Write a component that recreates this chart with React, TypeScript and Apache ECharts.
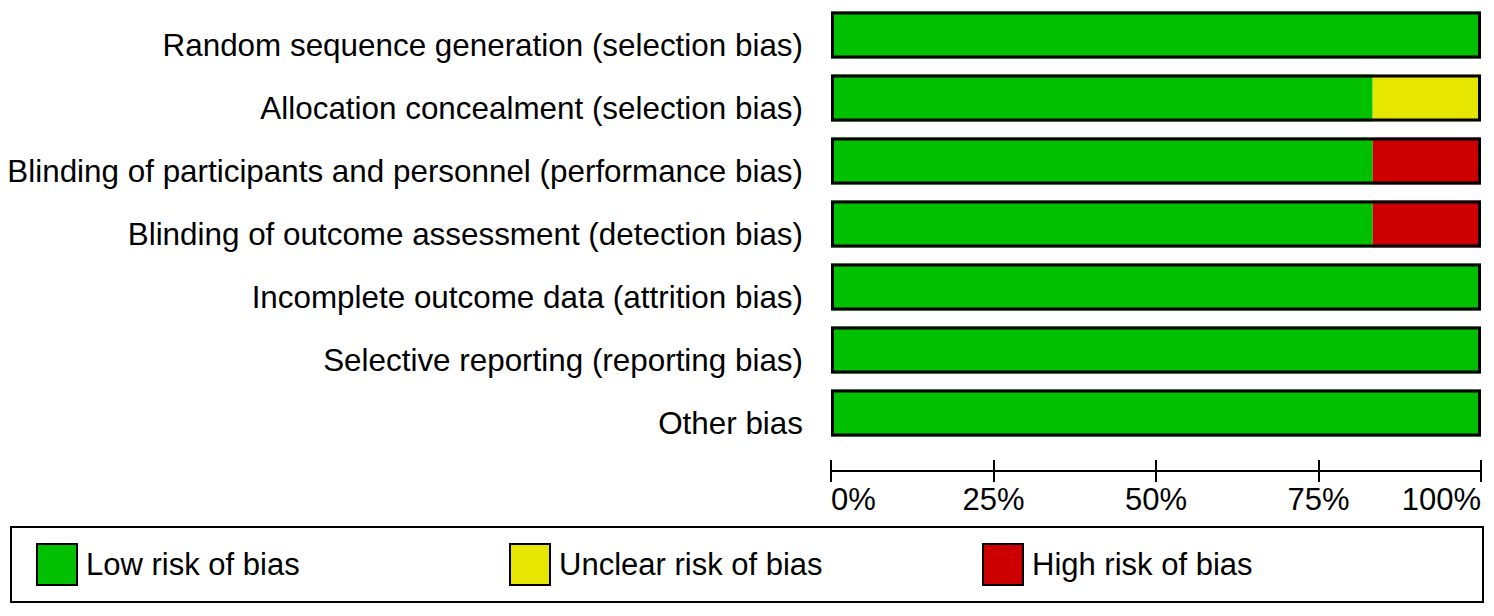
import React, { useEffect, useRef } from "react";
import * as echarts from "echarts";

const categories = [
  "Random sequence generation (selection bias)",
  "Allocation concealment (selection bias)",
  "Blinding of participants and personnel (performance bias)",
  "Blinding of outcome assessment (detection bias)",
  "Incomplete outcome data (attrition bias)",
  "Selective reporting (reporting bias)",
  "Other bias",
];
const lowRisk = [100, 83.33, 83.33, 83.33, 100, 100, 100];
const unclearRisk = [0, 16.67, 0, 0, 0, 0, 0];
const highRisk = [0, 0, 16.67, 16.67, 0, 0, 0];
const xTicks = [0, 25, 50, 75, 100];

const seriesNames = ["Low risk of bias", "Unclear risk of bias", "High risk of bias"];
const colors = ["#00C000", "#E6E600", "#CC0000"];

const FONT = "'Liberation Sans', Arial, sans-serif";

export default function App() {
  const ref = useRef<HTMLDivElement>(null);
  useEffect(() => {
    if (!ref.current) return;
    const chart = echarts.init(ref.current, undefined, { renderer: "svg" });
    const totals = lowRisk.map((v, i) => v + unclearRisk[i] + highRisk[i]);
    const segStyle = (c: string) => ({ color: c, borderWidth: 0 });
    const legendBase = (name: string, left: number) => ({
      data: [name],
      left,
      top: 543,
      padding: 0,
      orient: "horizontal",
      itemWidth: 40,
      itemHeight: 41,
      icon: "rect",
      selectedMode: false,
      itemStyle: { borderColor: "#000", borderWidth: 2 },
      textStyle: {
        fontFamily: FONT,
        fontSize: 31,
        color: "#000",
        padding: [0, 0, 0, 4],
      },
    });
    chart.setOption({
      animation: false,
      backgroundColor: "#fff",
      grid: { left: 831, width: 650, top: 3.5, height: 441, containLabel: false },
      xAxis: [
        {
          type: "value",
          min: xTicks[0],
          max: xTicks[xTicks.length - 1],
          interval: 25,
          position: "bottom",
          offset: 26.5,
          axisLine: { show: true, lineStyle: { color: "#000", width: 2 } },
          axisTick: { show: true, length: 11, inside: false, lineStyle: { color: "#000", width: 2 } },
          axisLabel: {
            formatter: "{value}%",
            fontFamily: FONT,
            fontSize: 31,
            color: "#000",
            margin: 13,
            alignMinLabel: "left",
            alignMaxLabel: "right",
          },
          splitLine: { show: false },
        },
        {
          type: "value",
          min: xTicks[0],
          max: xTicks[xTicks.length - 1],
          interval: 25,
          position: "bottom",
          offset: 26.5,
          axisLine: { show: false },
          axisTick: { show: true, length: 11, inside: true, lineStyle: { color: "#000", width: 2 } },
          axisLabel: { show: false },
          splitLine: { show: false },
        },
      ],
      yAxis: {
        type: "category",
        data: categories,
        inverse: true,
        axisLine: { show: false },
        axisTick: { show: false },
        axisLabel: {
          fontFamily: FONT,
          fontSize: 31.4,
          color: "#000",
          margin: 28,
          verticalAlign: "top",
          lineHeight: 20,
        },
      },
      legend: [
        legendBase(seriesNames[0], 36),
        legendBase(seriesNames[1], 509),
        legendBase(seriesNames[2], 982),
      ],
      graphic: [
        {
          type: "rect",
          shape: { x: 11, y: 527, width: 1472, height: 75 },
          style: { fill: "none", stroke: "#000", lineWidth: 2 },
          z: -1,
        },
      ],
      series: [
        {
          name: seriesNames[0],
          type: "bar",
          stack: "risk",
          data: lowRisk,
          barWidth: 47,
          itemStyle: segStyle(colors[0]),
        },
        {
          name: seriesNames[1],
          type: "bar",
          stack: "risk",
          data: unclearRisk,
          barWidth: 47,
          itemStyle: segStyle(colors[1]),
        },
        {
          name: seriesNames[2],
          type: "bar",
          stack: "risk",
          data: highRisk,
          barWidth: 47,
          itemStyle: segStyle(colors[2]),
        },
        {
          name: "outline",
          type: "bar",
          data: totals,
          barWidth: 47,
          barGap: "-100%",
          silent: true,
          itemStyle: { color: "rgba(0,0,0,0)", borderColor: "#000", borderWidth: 3 },
          z: 3,
        },
      ],
    });
    return () => chart.dispose();
  }, []);
  return (
    <div
      ref={ref}
      style={{ position: "absolute", left: 0, top: 0, width: 1494, height: 616 }}
    />
  );
}
